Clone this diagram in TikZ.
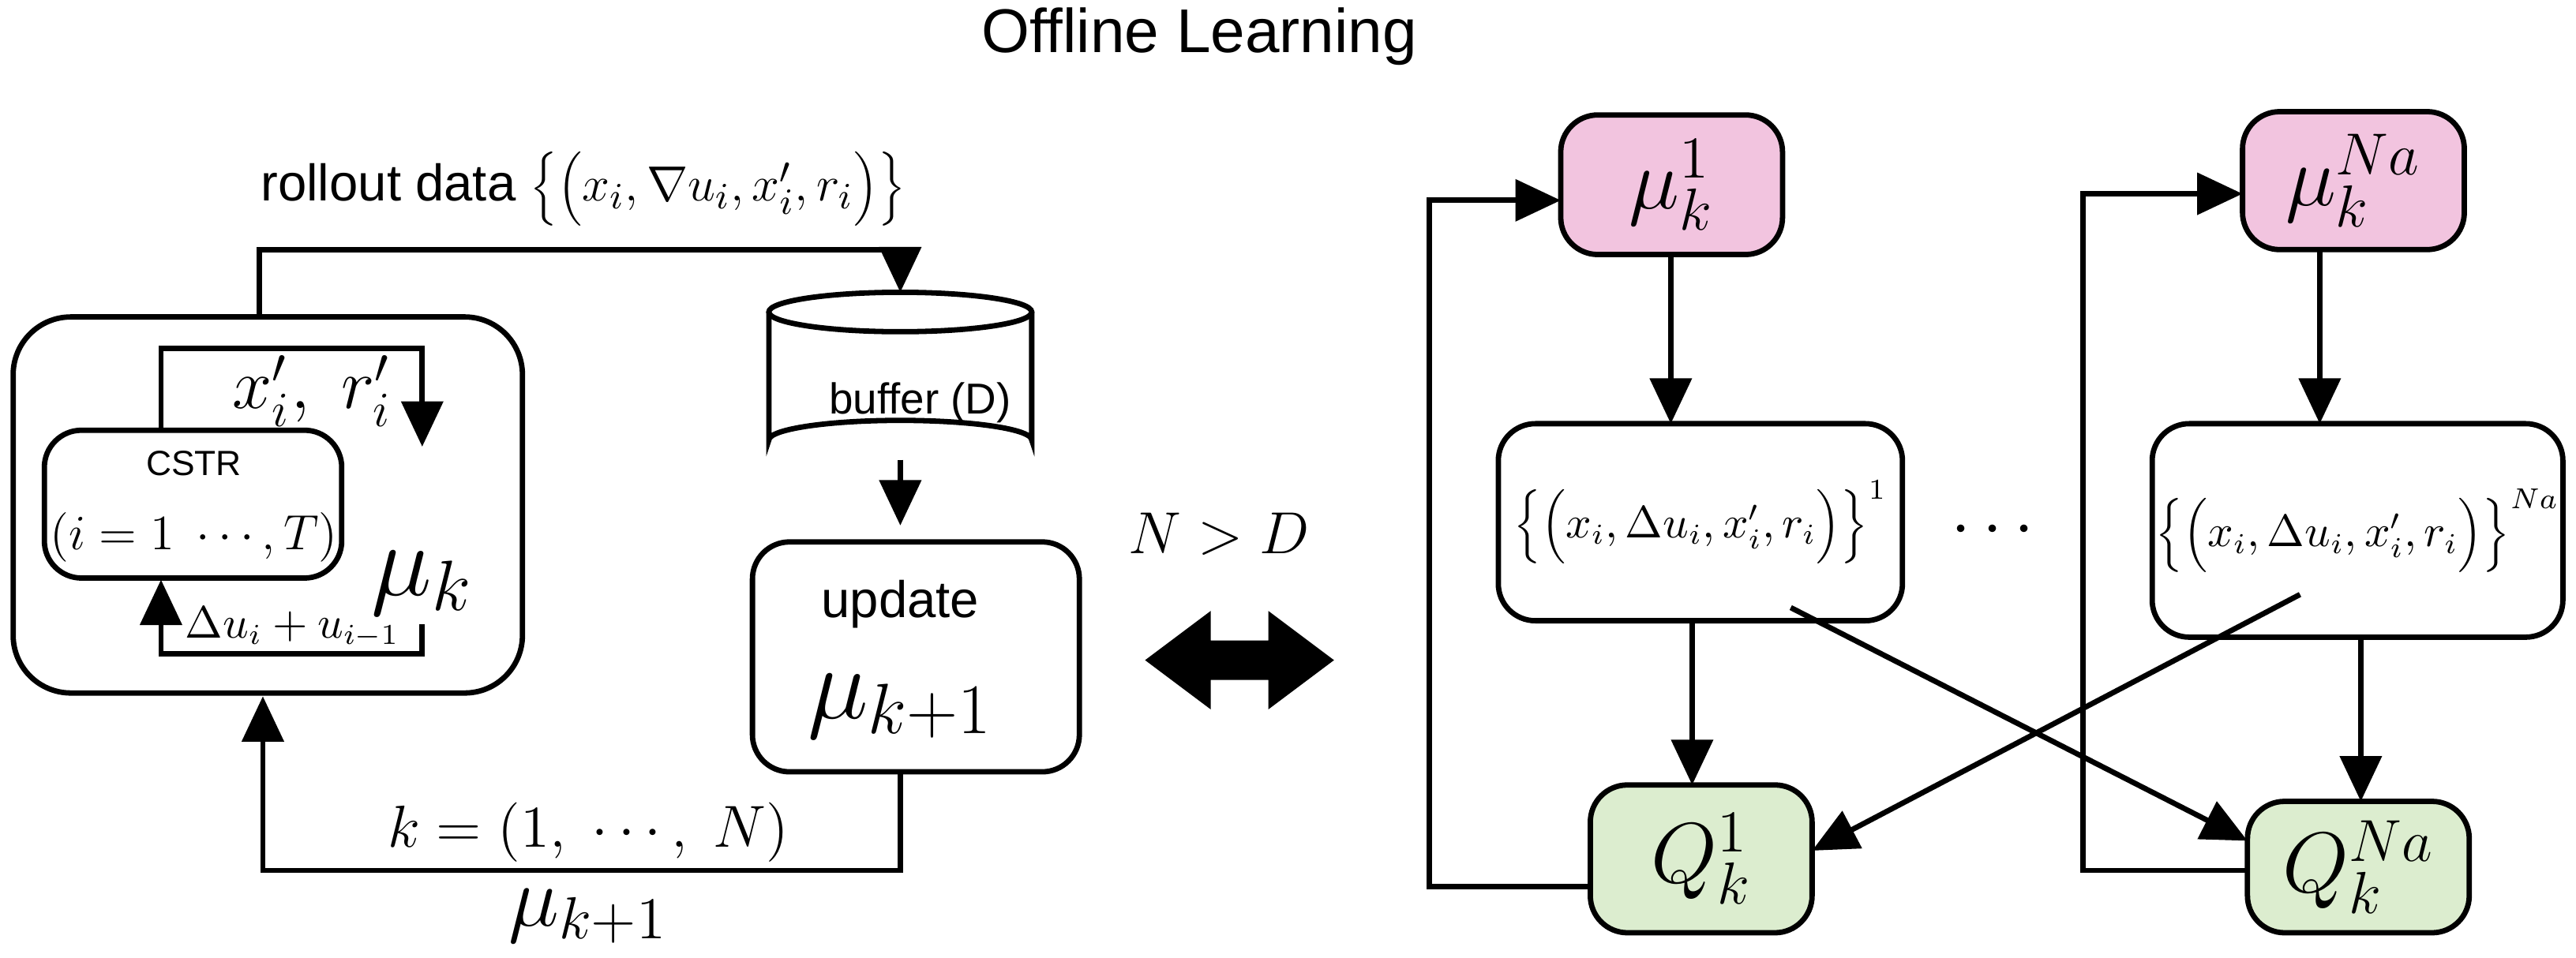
\documentclass[tikz,border=0pt]{standalone}
\usepackage{fontspec}
\setmainfont{Liberation Sans}
\usetikzlibrary{arrows.meta,shapes.geometric}
\definecolor{pinkc}{HTML}{F2C4DF}
\definecolor{greenc}{HTML}{DCEDCF}
\newcommand{\fs}[1]{\fontsize{#1}{#1}\selectfont}
\begin{document}
\begin{tikzpicture}[x=0.014cm,y=-0.014cm,
 box/.style={draw,line width=1.3pt,rounded corners=9pt,inner sep=0pt},
 sz/.style 2 args={minimum width=#1*0.014cm,minimum height=#2*0.014cm},
 ar/.style={line width=1.3pt,-{Triangle[length=11pt,width=10pt]}}]
\useasboundingbox (0,0) rectangle (1568,583);
\node (title) at (730,22) {\fs{15}Offline Learning};
% left
\node[box,rounded corners=14pt,sz={310}{229}] (big) at (163,307.5) {};
\node[box,sz={181}{90}] (cstr) at (117.5,307) {};
\node (cstrl) at (118,282) {\fs{8.5}CSTR};
\node (idx) at (118,327) {\fs{11.5}$(i=1\ \cdots,T)$};
\node (mu) at (257,355) {\fs{26}$\mu_k$};
\coordinate (mt) at (257,272);
\draw[ar] (98,262) -- (98,212) -- (257,212) -- (mt);
\node (xr) at (190,238) {\fs{17}$x_i',\ r_i'$};
\draw[ar] (257,380) -- (257,398) -- (98,398) -- (98,353);
\node (du) at (178,382) {\fs{10.5}$\Delta u_i + u_{i-1}$};
% buffer
\coordinate (buf) at (548,229);
\draw[line width=1.3pt] (468,190) -- (468,268) arc[start angle=180,end angle=360,x radius=80,y radius=12] -- (628,190);
\draw[line width=1.3pt] (548,190) ellipse[x radius=80,y radius=12];
\node (bufl) at (560,245) {\fs{10.5}buffer (D)};
\draw[ar] (158,193) -- (158,152) -- (548,152) -- (548,178);
\node (roll) at (355,115) {\fs{12.5}rollout data $\Big\{\Big(x_i,\nabla u_i,x_i',r_i\Big)\Big\}$};
\node[box,sz={199}{140}] (upd) at (557.5,400) {};
\node (updl) at (548,368) {\fs{12.5}update};
\node (mk1) at (548,430) {\fs{24}$\mu_{k+1}$};
\draw[ar] (548,280) -- (548,320);
\draw[ar] (548,470) -- (548,530) -- (160,530) -- (160,424);
\node (kl) at (358,507) {\fs{14}$k=(1,\ \cdots,\ N)$};
\node (mk2) at (358,558) {\fs{20}$\mu_{k+1}$};
\fill (697,402) -- (737,372) -- (737,390) -- (772,390) -- (772,372) -- (812,402) -- (772,432) -- (772,414) -- (737,414) -- (737,432) -- cycle;
\node (nd) at (742,325) {\fs{13.5}$N>D$};
% right
\node[box,fill=pinkc,sz={135}{85}] (m1) at (1017.5,112.5) {\fs{21}$\mu_k^1$};
\node[box,fill=pinkc,sz={135}{84}] (mn) at (1432.5,110) {\fs{21}$\mu_k^{Na}$};
\node[box,sz={246}{120}] (d1) at (1035,318) {\fs{10.5}$\Big\{\Big(x_i,\Delta u_i,x_i',r_i\Big)\Big\}^1$};
\node[box,sz={250}{130}] (d2) at (1435,323) {\fs{10.5}$\Big\{\Big(x_i,\Delta u_i,x_i',r_i\Big)\Big\}^{Na}$};
\node (dots) at (1213,323) {\fs{16}$\cdots$};
\node[box,fill=greenc,sz={135}{90}] (q1) at (1035.5,523) {\fs{21}$Q_k^1$};
\node[box,fill=greenc,sz={135}{80}] (qn) at (1435.5,528) {\fs{21}$Q_k^{Na}$};
\draw[ar] (1017,155) -- (1017,258);
\draw[ar] (1412,152) -- (1412,258);
\draw[ar] (1030,378) -- (1030,478);
\draw[ar] (1437,388) -- (1437,488);
\draw[ar] (1090,370) -- (1368,512);
\draw[ar] (1400,362) -- (1103,518);
\draw[ar] (968,540) -- (870,540) -- (870,122) -- (950,122);
\draw[ar] (1368,530) -- (1268,530) -- (1268,118) -- (1365,118);
\end{tikzpicture}
\end{document}
